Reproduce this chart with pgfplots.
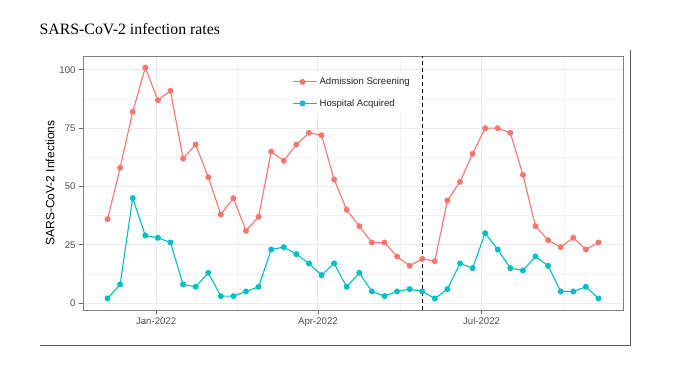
\documentclass[border=0pt]{standalone}
\usepackage{fontspec}
\setmainfont{Liberation Serif}
\newfontfamily\arial{Liberation Sans}
\usepackage{pgfplots}
\usepackage{pgfplotstable}
\pgfplotsset{compat=1.18}
\definecolor{adm}{HTML}{F8766D}
\definecolor{hosp}{HTML}{00BFC4}
\definecolor{ticktext}{HTML}{4D4D4D}
\pgfplotstableread{
x adm hosp
-27 36 2
-20 58 8
-13 82 45
-6 101 29
1 87 28
8 91 26
15 62 8
22 68 7
29 54 13
36 38 3
43 45 3
50 31 5
57 37 7
64 65 23
71 61 24
78 68 21
85 73 17
92 72 12
99 53 17
106 40 7
113 33 13
120 26 5
127 26 3
134 20 5
141 16 6
148 19 5
155 18 2
162 44 6
169 52 17
176 64 15
183 75 30
190 75 23
197 73 15
204 55 14
211 33 20
218 27 16
225 24 5
232 28 5
239 23 7
246 26 2
}\datatable
\begin{document}
\begin{tikzpicture}[x=1pt,y=1pt]
\useasboundingbox (0,0) rectangle (680,374);
\node[anchor=base west, inner sep=0pt, font=\fontsize{15.8}{18}\selectfont] at (39.5,339.7) {SARS-CoV-2 infection rates};
\draw[line width=1.3pt, black!65] (40,28.3) -- (630.5,28.3) -- (630.5,324);
\begin{axis}[
  at={(83pt,64pt)}, anchor=south west,
  scale only axis, width=540pt, height=254pt,
  xmin=-40.65, xmax=259.65, ymin=-2.95, ymax=105.95,
  xtick={0,90,181}, xticklabels={Jan-2022,Apr-2022,Jul-2022},
  minor xtick={45,135.5,227},
  ytick={0,25,50,75,100}, minor ytick={12.5,37.5,62.5,87.5},
  grid=both,
  major grid style={color=black!8, line width=0.9pt},
  minor grid style={color=black!5, line width=0.5pt},
  tick align=outside, major tick length=4pt, minor tick length=0pt,
  xtick pos=bottom, ytick pos=left,
  every tick/.style={black!60, line width=0.8pt},
  axis line style={black!50, line width=0.8pt},
  tick label style={font=\arial\fontsize{9.6}{11}\selectfont, text=ticktext},
  /pgf/number format/assume math mode=true,
  ylabel={SARS-CoV-2 Infections},
  ylabel style={font=\arial\fontsize{12}{14}\selectfont, at={(axis description cs:-0.061,0.5)}, anchor=center},
  legend style={at={(axis description cs:0.382,0.935)}, anchor=north west, draw=none, fill=white,
    font=\arial\fontsize{9.6}{11}\selectfont, text=black!85, row sep=9pt, inner sep=3pt},
  legend cell align=left,
  legend image code/.code={\draw[mark repeat=2,mark phase=2,#1] plot coordinates {(0pt,0pt) (9.5pt,0pt) (19pt,0pt)}; \path (0pt,0pt) -- (24pt,0pt);},
]
\addplot[adm, line width=1.1pt, mark=*, mark size=2.4pt, mark options={solid, fill=adm, draw=adm}] table[x=x,y=adm]{\datatable};
\addlegendentry{Admission Screening}
\addplot[hosp, line width=1.1pt, mark=*, mark size=2.4pt, mark options={solid, fill=hosp, draw=hosp}] table[x=x,y=hosp]{\datatable};
\addlegendentry{Hospital Acquired}
\addplot[black, line width=1.3pt, dash pattern=on 4pt off 3pt, forget plot] coordinates {(148,-2.95) (148,105.95)};
\end{axis}
\end{tikzpicture}
\end{document}
